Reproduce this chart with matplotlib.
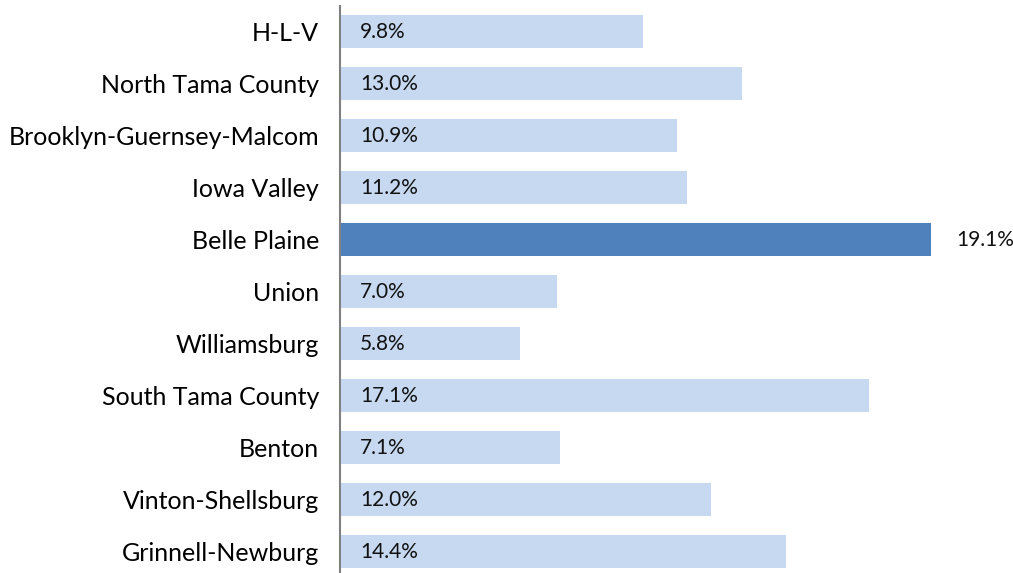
import matplotlib
matplotlib.use("Agg")
import matplotlib.pyplot as plt

# Districts, top to bottom as shown
districts = ['H-L-V', 'North Tama County', 'Brooklyn-Guernsey-Malcom', 'Iowa Valley',
             'Belle Plaine', 'Union', 'Williamsburg', 'South Tama County', 'Benton',
             'Vinton-Shellsburg', 'Grinnell-Newburg']
values = [9.8, 13.0, 10.9, 11.2, 19.1, 7.0, 5.8, 17.1, 7.1, 12.0, 14.4]
highlight = 'Belle Plaine'

plt.rcParams['font.family'] = ['Lato', 'DejaVu Sans']

fig = plt.figure(figsize=(10.13, 5.73), dpi=100)
ax = fig.add_axes([340 / 1013, -4.5 / 573, 673 / 1013, 572 / 573])

ypos = list(range(len(districts)))
colors = ['#4F81BD' if d == highlight else '#C6D9F1' for d in districts]
ax.barh(ypos, values, height=0.65, color=colors)

for y, v, d in zip(ypos, values, districts):
    if d == highlight:
        ax.text(v + 0.8, y, f'{v:.1f}%', va='center', ha='left', fontsize=15, color='#111111')
    else:
        ax.text(0.65, y, f'{v:.1f}%', va='center', ha='left', fontsize=15, color='#111111')

ax.set_xlim(0, 21.74)
ax.set_ylim(len(districts) - 0.5, -0.5)
ax.set_yticks(ypos)
ax.set_yticklabels(districts, fontsize=18)
ax.tick_params(axis='y', length=0, pad=15)
ax.set_xticks([])
for s in ['top', 'right', 'bottom']:
    ax.spines[s].set_visible(False)
ax.spines['left'].set_color('#808080')
ax.spines['left'].set_linewidth(1.5)

fig.savefig('out.png', dpi=100)
